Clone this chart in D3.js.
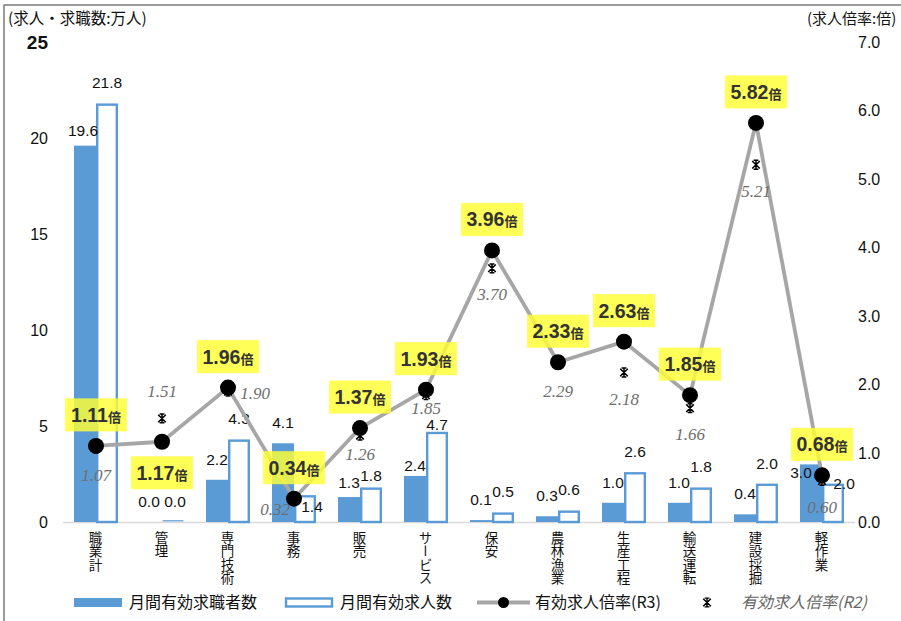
<!DOCTYPE html>
<html><head><meta charset="utf-8">
<script src="https://cdn.jsdelivr.net/npm/d3@7"></script>
<style>body{margin:0;background:#fff}svg{display:block}</style>
</head><body>
<svg id="chart" width="901" height="621"></svg>
<script>
// Occupation groups and monthly figures (10k persons) plus job-opening ratios
const categories = ["職業計","管理","専門技術","事務","販売","サービス","保安","農林漁業","生産工程","輸送運転","建設採掘","軽作業"];
const jobSeekers = [19.6, 0.0, 2.2, 4.1, 1.3, 2.4, 0.1, 0.3, 1.0, 1.0, 0.4, 3.0];
const jobOffers  = [21.8, 0.0, 4.3, 1.4, 1.8, 4.7, 0.5, 0.6, 2.6, 1.8, 2.0, 2.0];
const ratioR3    = [1.11, 1.17, 1.96, 0.34, 1.37, 1.93, 3.96, 2.33, 2.63, 1.85, 5.82, 0.68];
const ratioR2    = [1.07, 1.51, 1.90, 0.32, 1.26, 1.85, 3.70, 2.29, 2.18, 1.66, 5.21, 0.60];
const leftTicks  = [0, 5, 10, 15, 20, 25];
const rightTicks = [0, 1, 2, 3, 4, 5, 6, 7];
const seriesNames = ["月間有効求職者数", "月間有効求人数", "有効求人倍率(R3)", "有効求人倍率(R2)"];

const JP = "'Noto Sans CJK JP', 'Noto Sans', sans-serif";
const NUM = "'Liberation Sans', Arial, sans-serif";
const NARROW = "'Liberation Sans Narrow', 'Liberation Sans', sans-serif";
const SERIF = "'Liberation Serif', 'DejaVu Serif', serif";
const BLUE = "#5B9BD5", GRAY = "#A6A6A6";

const svg = d3.select("#chart");

// frame
svg.append("path").attr("d", "M4,621V5H901").attr("fill", "none")
  .attr("stroke", "#7a7a7a").attr("stroke-width", 1.5);

const x = d3.scaleBand().domain(categories).range([63, 855]);
const xs = d3.scaleBand().domain(["seek", "offer"]).range([0, x.bandwidth()]).paddingOuter(0.5);
const yL = d3.scaleLinear().domain([0, 25]).range([522, 42]);
const yR = d3.scaleLinear().domain([0, 7]).range([522, 42]);

// axis titles
svg.append("text").attr("x", 8).attr("y", 24).attr("font-family", JP).attr("font-size", 15.5)
  .attr("fill", "#111").text("(求人・求職数:万人)");
svg.append("text").attr("x", 807).attr("y", 24).attr("font-family", JP).attr("font-size", 15)
  .attr("fill", "#111").text("(求人倍率:倍)");

// left axis
const axL = svg.append("g").attr("transform", "translate(48,0)")
  .call(d3.axisLeft(yL).tickValues(leftTicks).tickSize(0).tickPadding(0).tickFormat(d3.format("d")));
axL.select(".domain").remove();
axL.selectAll("text").attr("font-family", NUM).attr("fill", "#111")
  .attr("font-weight", d => d === 25 ? "bold" : null)
  .attr("font-size", d => d === 25 ? 19 : 16);

// right axis
const axR = svg.append("g").attr("transform", "translate(856,0)")
  .call(d3.axisRight(yR).tickValues(rightTicks).tickSize(0).tickPadding(2).tickFormat(d3.format(".1f")));
axR.select(".domain").remove();
axR.selectAll("text").attr("font-family", NUM).attr("font-size", 16).attr("fill", "#111");

// baseline
svg.append("line").attr("x1", 63).attr("x2", 855).attr("y1", yL(0) + 0.5).attr("y2", yL(0) + 0.5)
  .attr("stroke", "#d9d9d9").attr("stroke-width", 1.5);

// category labels (vertical)
svg.append("g").selectAll("text").data(categories).join("text")
  .attr("x", d => x(d) + x.bandwidth() / 2 - 0.5).attr("y", 531)
  .style("writing-mode", "vertical-rl").style("text-orientation", "upright")
  .attr("font-family", JP).attr("font-size", 13.5).attr("fill", "#111").text(d => d);

// bars
const gBars = svg.append("g");
gBars.selectAll("rect.seek").data(jobSeekers).join("rect").attr("class", "seek")
  .attr("x", (d, i) => x(categories[i]) + xs("seek"))
  .attr("y", d => yL(d)).attr("width", xs.bandwidth()).attr("height", d => yL(0) - yL(d))
  .attr("fill", BLUE);
gBars.selectAll("rect.offer").data(jobOffers).join("rect").attr("class", "offer")
  .attr("x", (d, i) => x(categories[i]) + xs("offer") + 1.2)
  .attr("y", d => Math.min(yL(d) + 1.2, yL(0) - 1.2)).attr("width", xs.bandwidth() - 2.4)
  .attr("height", d => Math.max(0.01, yL(0) - yL(d) - 1.2))
  .attr("fill", "#fff").attr("stroke", BLUE).attr("stroke-width", d => d > 0 ? 2.4 : 1.2);

// bar value labels, a few shifted to stay clear of neighbours
const seekNudge = {0: [-2, 5], 1: [-2, 0], 4: [0, 6], 5: [0, 10], 11: [-10, 29]};
const offerNudge = {1: [2, 0], 3: [7, 32], 4: [0, 9], 5: [0, 13], 11: [11, 20]};
function barLabels(values, key, nudge) {
  svg.append("g").selectAll("text").data(values).join("text")
    .attr("x", (d, i) => x(categories[i]) + xs(key) + xs.bandwidth() / 2 + (nudge[i] ? nudge[i][0] : 0))
    .attr("y", (d, i) => yL(d) - 15 + (nudge[i] ? nudge[i][1] : 0))
    .attr("text-anchor", "middle").attr("font-family", NARROW).attr("font-size", 15.5)
    .attr("fill", "#111").text(d => d3.format(".1f")(d));
}
barLabels(jobSeekers, "seek", seekNudge);
barLabels(jobOffers, "offer", offerNudge);

// R3 ratio line
const cx = i => x(categories[i]) + x.bandwidth() / 2;
svg.append("path").datum(ratioR3)
  .attr("d", d3.line().x((d, i) => cx(i)).y(d => yR(d)))
  .attr("fill", "none").attr("stroke", GRAY).attr("stroke-width", 3.8).attr("stroke-linejoin", "round");

// R2 star markers
const starPath = "M-3.8,-3.8L3.8,3.8M3.8,-3.8L-3.8,3.8M0,-4.4L0,4.4M-2.4,-4.4L2.4,-4.4M-2.4,4.4L2.4,4.4";
svg.append("g").selectAll("path").data(ratioR2).join("path")
  .attr("transform", (d, i) => `translate(${cx(i)},${yR(d)})`)
  .attr("d", starPath).attr("fill", "none").attr("stroke", "#000").attr("stroke-width", 1.5);

// R3 dots
svg.append("g").selectAll("circle").data(ratioR3).join("circle")
  .attr("cx", (d, i) => cx(i)).attr("cy", d => yR(d)).attr("r", 8).attr("fill", "#000");

// R2 value labels
const r2Place = ["below","above","right","left","below","below","below","below","below","below","below","below"];
const r2Off = {below: [0, 32], above: [0, -21], right: [27, 7], left: [-19, 15]};
const r2Dy = {4: -8, 5: -13};
svg.append("g").selectAll("text").data(ratioR2).join("text")
  .attr("x", (d, i) => cx(i) + r2Off[r2Place[i]][0])
  .attr("y", (d, i) => yR(d) + r2Off[r2Place[i]][1] + (r2Dy[i] || 0))
  .attr("text-anchor", "middle").attr("font-family", SERIF).attr("font-style", "italic")
  .attr("font-size", 17).attr("fill", "#6e6e6e").text(d => d3.format(".2f")(d));

// R3 callouts
const r3Below = [false, true, false, false, false, false, false, false, false, false, false, false];
const gCall = svg.append("g").selectAll("g").data(ratioR3).join("g")
  .attr("transform", (d, i) => `translate(${cx(i)},${yR(d) + (r3Below[i] ? 31 : -31)})`);
gCall.append("rect").attr("x", -31).attr("y", -16.5).attr("width", 62).attr("height", 33)
  .attr("fill", "#FFFF33").attr("fill-opacity", 0.82);
const t = gCall.append("text").attr("x", 0).attr("y", 7).attr("text-anchor", "middle")
  .attr("fill", "#333").attr("font-weight", "bold");
t.append("tspan").attr("font-family", NARROW).attr("font-size", 19.5).text(d => d3.format(".2f")(d));
t.append("tspan").attr("font-family", JP).attr("font-size", 13).text("倍");

// legend
const lg = svg.append("g").attr("font-family", JP).attr("font-size", 16).attr("fill", "#111");
lg.append("rect").attr("x", 74).attr("y", 598).attr("width", 48).attr("height", 9).attr("fill", BLUE);
lg.append("text").attr("x", 129).attr("y", 608).text(seriesNames[0]);
lg.append("rect").attr("x", 286).attr("y", 598.5).attr("width", 46).attr("height", 8)
  .attr("fill", "#fff").attr("stroke", BLUE).attr("stroke-width", 2.4);
lg.append("text").attr("x", 340).attr("y", 608).text(seriesNames[1]);
lg.append("line").attr("x1", 477).attr("x2", 530).attr("y1", 602.5).attr("y2", 602.5)
  .attr("stroke", GRAY).attr("stroke-width", 4);
lg.append("circle").attr("cx", 503.5).attr("cy", 602.5).attr("r", 5.5).attr("fill", "#000");
lg.append("text").attr("x", 535).attr("y", 608).text(seriesNames[2]);
lg.append("path").attr("transform", "translate(707,602.5)").attr("d", starPath)
  .attr("fill", "none").attr("stroke", "#000").attr("stroke-width", 1.4);
lg.append("text").attr("x", 741).attr("y", 608).attr("font-style", "italic").attr("fill", "#666")
  .text(seriesNames[3]);
</script>
</body></html>
